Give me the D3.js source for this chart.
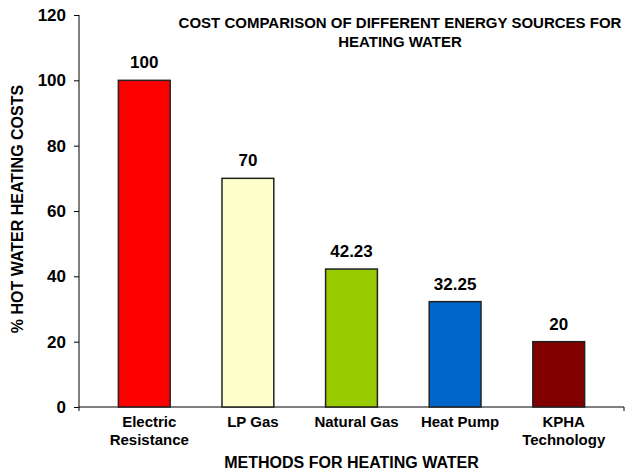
<!DOCTYPE html>
<html lang="en">
<head>
    <meta charset="UTF-8">
    <title>Cost comparison</title>
    <style>
        body {
            margin: 0;
            background: #fff;
        }
        svg text {
            font-family: "Liberation Sans", Arial, Helvetica, sans-serif;
            font-weight: bold;
            fill: #000;
        }
    </style>
</head>
<body>
    <div id="chart"></div>
    <script src="https://d3js.org/d3.v7.min.js"></script>
    <script>
        const categories = [
            ['Electric', 'Resistance'],
            ['LP Gas'],
            ['Natural Gas'],
            ['Heat Pump'],
            ['KPHA', 'Technology']
        ]
        const values = [100, 70, 42.23, 32.25, 20]
        const valueLabels = ['100', '70', '42.23', '32.25', '20']
        const colors = ['#FF0000', '#FFFFCC', '#99CC00', '#0066CC', '#800000']
        const yTicks = [0, 20, 40, 60, 80, 100, 120]

        const width = 627
        const height = 470
        const margin = { top: 15, right: 3, bottom: 63, left: 79 }

        const svg = d3.select('#chart')
            .append('svg')
            .attr('width', width)
            .attr('height', height)

        const xScale = d3.scaleBand()
            .domain(d3.range(values.length))
            .range([margin.left, width - margin.right])
            .paddingInner(0.5)
            .paddingOuter(0.38)

        const yScale = d3.scaleLinear()
            .domain([0, 120])
            .range([height - margin.bottom, margin.top])

        drawAxis()
        drawBars()
        drawTitles()

        function drawAxis() {
            const yAxis = d3.axisLeft(yScale)
                .tickValues(yTicks)
                .tickSize(5)
                .tickPadding(8)

            const gy = svg.append('g')
                .attr('transform', `translate(${margin.left},0)`)
                .call(yAxis)
            gy.select('.domain').attr('d', `M0,${yScale(120)}V${yScale(0)}`)
            gy.selectAll('text')
                .attr('font-size', 17)
            gy.selectAll('line, path').attr('stroke', '#000')

            // x axis line, ticks only at both ends
            const x0 = margin.left
            const x1 = width - margin.right
            const y0 = yScale(0)
            svg.append('path')
                .attr('d', `M${x0},${y0 + 4}V${y0}H${x1}V${y0 + 4}`)
                .attr('fill', 'none')
                .attr('stroke', '#000')

            const labels = svg.append('g')
            categories.forEach((lines, i) => {
                const cx = xScale(i) + xScale.bandwidth() / 2 + 5
                const t = labels.append('text')
                    .attr('text-anchor', 'middle')
                    .attr('font-size', 15)
                    .attr('x', cx)
                    .attr('y', y0 + 20)
                lines.forEach((l, j) => {
                    t.append('tspan')
                        .attr('x', cx)
                        .attr('dy', j === 0 ? 0 : 18)
                        .text(l)
                })
            })
        }

        function drawBars() {
            svg.append('g')
                .selectAll('rect')
                .data(values)
                .join('rect')
                .attr('x', (d, i) => xScale(i))
                .attr('y', d => yScale(d))
                .attr('width', xScale.bandwidth())
                .attr('height', d => yScale(0) - yScale(d))
                .attr('fill', (d, i) => colors[i])
                .attr('stroke', '#222')
                .attr('stroke-width', 1.5)

            svg.append('g')
                .selectAll('text')
                .data(values)
                .join('text')
                .attr('text-anchor', 'middle')
                .attr('font-size', 17)
                .attr('x', (d, i) => xScale(i) + xScale.bandwidth() / 2)
                .attr('y', d => yScale(d) - 12)
                .text((d, i) => valueLabels[i])
        }

        function drawTitles() {
            const title = svg.append('text')
                .attr('text-anchor', 'middle')
                .attr('font-size', 15)
                .attr('y', 28)
            title.append('tspan').attr('x', 400).text('COST COMPARISON OF DIFFERENT ENERGY SOURCES FOR')
            title.append('tspan').attr('x', 400).attr('dy', 19).text('HEATING WATER')

            svg.append('text')
                .attr('text-anchor', 'middle')
                .attr('font-size', 16)
                .attr('x', (margin.left + width - margin.right) / 2)
                .attr('y', 468)
                .text('METHODS FOR HEATING WATER')

            svg.append('text')
                .attr('text-anchor', 'middle')
                .attr('font-size', 16)
                .attr('transform', 'translate(23,209) rotate(-90)')
                .text('% HOT WATER HEATING COSTS')
        }
    </script>
</body>
</html>
